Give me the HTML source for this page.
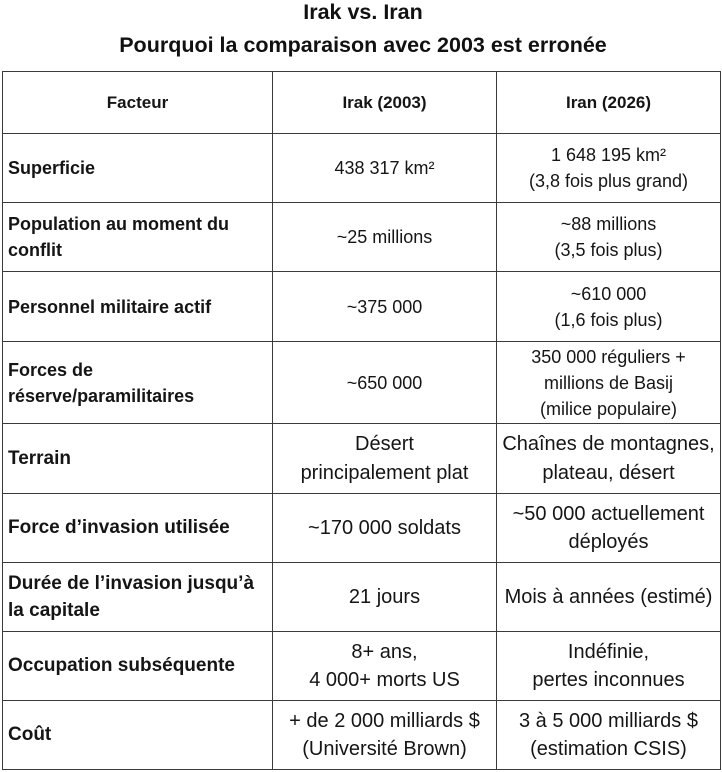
<!DOCTYPE html>
<html><head><meta charset="utf-8">
<style>
html,body{margin:0;padding:0;background:#fff;}
body{width:722px;height:772px;position:relative;overflow:hidden;font-family:"Liberation Sans",Arial,sans-serif;color:#151515;}
.title{position:absolute;left:0;top:-4px;width:726px;text-align:center;font-weight:bold;font-size:21.5px;line-height:33px;color:#111;}
.h{position:absolute;height:1px;background:#3a3a3a;left:2px;width:719px;}
.v{position:absolute;width:1px;background:#3a3a3a;top:71px;height:699px;}
.c{position:absolute;display:flex;align-items:center;justify-content:center;text-align:center;white-space:nowrap;}
.l{justify-content:flex-start;text-align:left;padding-left:5px;font-weight:bold;}
.u{font-size:18px;line-height:26px;}
.ul{font-size:18px;line-height:26px;}
.d{font-size:20px;line-height:28.5px;}
.dl{font-size:19px;line-height:27.5px;}
.hd{font-weight:bold;font-size:17px;}
</style></head><body>
<div class="title">Irak vs. Iran<br>Pourquoi la comparaison avec 2003 est erronée</div>

<div class="h" style="top:71px"></div>
<div class="h" style="top:133px"></div>
<div class="h" style="top:202px"></div>
<div class="h" style="top:271px"></div>
<div class="h" style="top:341px"></div>
<div class="h" style="top:423px"></div>
<div class="h" style="top:493px"></div>
<div class="h" style="top:562px"></div>
<div class="h" style="top:631px"></div>
<div class="h" style="top:700px"></div>
<div class="h" style="top:769px"></div>
<div class="v" style="left:2px"></div>
<div class="v" style="left:272px"></div>
<div class="v" style="left:496px"></div>
<div class="v" style="left:720px"></div>

<!-- header -->
<div class="c hd" style="left:3px;width:269px;top:72px;height:61px">Facteur</div>
<div class="c hd" style="left:273px;width:223px;top:72px;height:61px">Irak (2003)</div>
<div class="c hd" style="left:497px;width:223px;top:72px;height:61px">Iran (2026)</div>

<!-- Superficie -->
<div class="c l ul" style="left:3px;width:264px;top:134px;height:68px">Superficie</div>
<div class="c u" style="left:273px;width:223px;top:134px;height:68px">438 317 km²</div>
<div class="c u" style="left:497px;width:223px;top:134px;height:68px">1 648 195 km²<br>(3,8 fois plus grand)</div>

<!-- Population -->
<div class="c l ul" style="left:3px;width:264px;top:203px;height:68px">Population au moment du<br>conflit</div>
<div class="c u" style="left:273px;width:223px;top:203px;height:68px">~25 millions</div>
<div class="c u" style="left:497px;width:223px;top:203px;height:68px">~88 millions<br>(3,5 fois plus)</div>

<!-- Personnel -->
<div class="c l ul" style="left:3px;width:264px;top:272px;height:69px">Personnel militaire actif</div>
<div class="c u" style="left:273px;width:223px;top:272px;height:69px">~375 000</div>
<div class="c u" style="left:497px;width:223px;top:272px;height:69px">~610 000<br>(1,6 fois plus)</div>

<!-- Forces -->
<div class="c l ul" style="left:3px;width:264px;top:342px;height:81px">Forces de<br>réserve/paramilitaires</div>
<div class="c u" style="left:273px;width:223px;top:342px;height:81px">~650 000</div>
<div class="c u" style="left:497px;width:223px;top:342px;height:81px">350 000 réguliers +<br>millions de Basij<br>(milice populaire)</div>

<!-- Terrain -->
<div class="c l dl" style="left:3px;width:264px;top:424px;height:69px">Terrain</div>
<div class="c d" style="left:273px;width:223px;top:424px;height:69px">Désert<br>principalement plat</div>
<div class="c d" style="left:497px;width:223px;top:424px;height:69px">Chaînes de montagnes,<br>plateau, désert</div>

<!-- Force d'invasion -->
<div class="c l dl" style="left:3px;width:264px;top:494px;height:68px">Force d’invasion utilisée</div>
<div class="c d" style="left:273px;width:223px;top:494px;height:68px">~170 000 soldats</div>
<div class="c d" style="left:497px;width:223px;top:494px;height:68px">~50 000 actuellement<br>déployés</div>

<!-- Durée -->
<div class="c l dl" style="left:3px;width:264px;top:563px;height:68px">Durée de l’invasion jusqu’à<br>la capitale</div>
<div class="c d" style="left:273px;width:223px;top:563px;height:68px">21 jours</div>
<div class="c d" style="left:497px;width:223px;top:563px;height:68px">Mois à années (estimé)</div>

<!-- Occupation -->
<div class="c l dl" style="left:3px;width:264px;top:632px;height:68px">Occupation subséquente</div>
<div class="c d" style="left:273px;width:223px;top:632px;height:68px">8+ ans,<br>4 000+ morts US</div>
<div class="c d" style="left:497px;width:223px;top:632px;height:68px">Indéfinie,<br>pertes inconnues</div>

<!-- Coût -->
<div class="c l dl" style="left:3px;width:264px;top:701px;height:68px">Coût</div>
<div class="c d" style="left:273px;width:223px;top:701px;height:68px">+ de 2 000 milliards $<br>(Université Brown)</div>
<div class="c d" style="left:497px;width:223px;top:701px;height:68px">3 à 5 000 milliards $<br>(estimation CSIS)</div>
</body></html>
